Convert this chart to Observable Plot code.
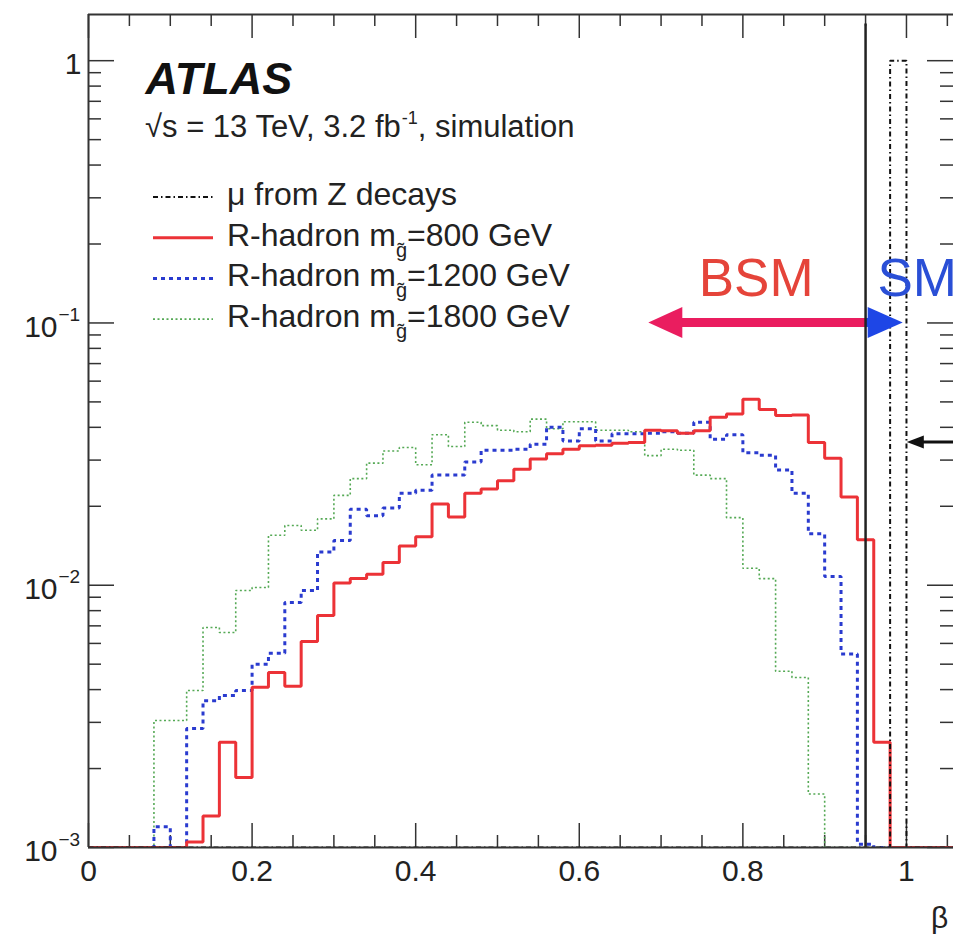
<!DOCTYPE html>
<html>
<head>
<meta charset="utf-8">
<script src="https://cdn.jsdelivr.net/npm/d3@7"></script>
<script src="https://cdn.jsdelivr.net/npm/@observablehq/plot@0.6"></script>
<style>
  html, body { margin: 0; padding: 0; background: #ffffff; }
  #chart svg { display: block; }
</style>
</head>
<body>
<div id="chart"></div>
<script>
const FONT = "'Liberation Sans', Arial, Helvetica, sans-serif";

// ---- histogram data: bins of width 0.02 starting at beta = 0 (53 bins, 0 .. 1.06) ----
const binWidth = 0.02;
const red800 = [0,0,0,0,0,0, 1.05e-3,1.32e-3,2.52e-3,1.85e-3, 4.08e-3,4.65e-3,4.12e-3,6.1e-3,7.66e-3,
  1.02e-2,1.06e-2,1.1e-2,1.22e-2,1.41e-2, 1.53e-2,2.04e-2,1.82e-2,2.24e-2,2.33e-2,
  2.5e-2,2.77e-2,3.03e-2,3.17e-2,3.3e-2, 3.4e-2,3.42e-2,3.48e-2,3.5e-2,3.9e-2,
  3.88e-2,3.8e-2,3.88e-2,4.37e-2,4.5e-2, 5.12e-2,4.68e-2,4.44e-2,4.46e-2,3.5e-2,
  3.05e-2,2.17e-2,1.49e-2,2.52e-3,0, 0,0,0];
const blue1200 = [0,0,0,0, 1.2e-3,0, 2.84e-3,3.63e-3,3.8e-3,3.97e-3, 5.0e-3,5.5e-3,8.6e-3,9.55e-3,1.34e-2,
  1.48e-2,1.95e-2,1.84e-2,1.97e-2,2.24e-2, 2.3e-2,2.63e-2,2.63e-2,2.95e-2,3.27e-2,
  3.27e-2,3.3e-2,3.45e-2,4.0e-2,3.55e-2, 3.95e-2,3.55e-2,3.78e-2,3.78e-2,3.8e-2,
  3.85e-2,3.8e-2,4.18e-2,3.6e-2,3.75e-2, 3.2e-2,3.13e-2,2.75e-2,2.24e-2,1.57e-2,
  1.08e-2,5.47e-3,1.03e-3,0,0, 0,0,0];
const green1800 = [0,0,0,0, 3.05e-3,3.05e-3, 3.97e-3,6.9e-3,6.6e-3,9.55e-3, 9.8e-3,1.55e-2,1.69e-2,1.62e-2,1.79e-2,
  2.2e-2,2.55e-2,2.92e-2,3.25e-2,3.35e-2, 2.88e-2,3.75e-2,3.38e-2,4.18e-2,4.06e-2,
  3.9e-2,3.85e-2,4.3e-2,3.95e-2,4.2e-2, 4.2e-2,3.9e-2,3.9e-2,3.85e-2,3.12e-2,
  3.3e-2,3.27e-2,2.63e-2,2.55e-2,1.81e-2, 1.16e-2,1.06e-2,4.7e-3,4.45e-3,1.6e-3,
  0,0,0,0,0, 0,0,0];
const muZ = [0,0,0,0,0,0,0,0,0,0, 0,0,0,0,0,0,0,0,0,0, 0,0,0,0,0,0,0,0,0,0,
  0,0,0,0,0,0,0,0,0,0, 0,0,0,0,0,0,0,0,0,1.0, 0,0,0];

// ---- axes ----
const xDomain = [0, 1.0575];
const yDomain = [1e-3, 1.5];
const xMajorTicks = [0, 0.2, 0.4, 0.6, 0.8, 1.0];
const xTickLabels = ["0", "0.2", "0.4", "0.6", "0.8", "1"];
const xMinorTicks = [0.05,0.1,0.15,0.25,0.3,0.35,0.45,0.5,0.55,0.65,0.7,0.75,0.85,0.9,0.95,1.05];
const yMajorTicks = [1e-3, 1e-2, 1e-1, 1];
const yTickBase = ["10", "10", "10", "1"];
const yTickExp = ["\u22123", "\u22122", "\u22121", ""];
const yMinorTicks = [2e-3,3e-3,4e-3,5e-3,6e-3,7e-3,8e-3,9e-3,
  2e-2,3e-2,4e-2,5e-2,6e-2,7e-2,8e-2,9e-2,
  2e-1,3e-1,4e-1,5e-1,6e-1,7e-1,8e-1,9e-1];
const xLabel = "\u03b2";

// ---- annotations ----
const betaCut = 0.95;
const cutTop = 1.38;
const regionLabels = [
  {label: "BSM", x: 0.746, y: 0.1, color: "#e5443a"},
  {label: "SM", x: 0.9645, y: 0.1, color: "#2a4fd6"}
];
const regionArrows = [
  {from: 0.95, to: 0.685, y: 0.1, color: "#ea1d5f", shaft: 9, headLength: 34, headWidth: 31},
  {from: 0.95, to: 0.996, y: 0.1, color: "#1e46e6", shaft: 9, headLength: 35, headWidth: 31},
  {from: 1.07, to: 1.001, y: 0.035, color: "#111111", shaft: 3, headLength: 17, headWidth: 13}
];
const RED = "#ec3237", BLUE = "#2a3bcf", GREEN = "#55a955", BLACK = "#111111";
const legendEntries = [
  {pre: "\u03bc from Z decays", sub: "", post: "", stroke: BLACK, width: 2, dash: "5,3,1.5,3"},
  {pre: "R-hadron m", sub: "g\u0303", post: "=800 GeV", stroke: RED, width: 3, dash: null},
  {pre: "R-hadron m", sub: "g\u0303", post: "=1200 GeV", stroke: BLUE, width: 3, dash: "4,4"},
  {pre: "R-hadron m", sub: "g\u0303", post: "=1800 GeV", stroke: GREEN, width: 1.6, dash: "2,2.5"}
];
const experiment = "ATLAS";
const subtitlePre = "\u221as = 13 TeV, 3.2 fb";
const subtitleSup = "-1";
const subtitlePost = ", simulation";

// ---- layout ----
const W = 953, H = 934, mL = 88, mR = 0, mT = 14, mB = 87;
const innerW = W - mL - mR, innerH = H - mT - mB;

function stepPoints(values) {
  const pts = values.map((v, i) => ({x: i * binWidth, y: Math.max(v, yDomain[0])}));
  pts.push({x: values.length * binWidth, y: pts[pts.length - 1].y});
  return pts;
}

function arrowsMark(index, scales, values, dims) {
  const g = d3.create("svg:g");
  for (const a of regionArrows) {
    const x1 = scales.x(a.from), x2 = scales.x(a.to), y = scales.y(a.y);
    const dir = Math.sign(x2 - x1);
    const xb = x2 - dir * a.headLength;
    g.append("line")
      .attr("x1", x1).attr("x2", xb + dir * 2).attr("y1", y).attr("y2", y)
      .attr("stroke", a.color).attr("stroke-width", a.shaft);
    g.append("path")
      .attr("d", `M${x2},${y}L${xb},${y - a.headWidth / 2}L${xb},${y + a.headWidth / 2}Z`)
      .attr("fill", a.color);
  }
  return g.node();
}

function legendMark(index, scales, values, dims) {
  const g = d3.create("svg:g").attr("font-family", FONT).attr("fill", "#222")
    .attr("text-anchor", "start");
  // subtitle
  const st = g.append("text").attr("x", dims.marginLeft + 57).attr("y", dims.marginTop + 123)
    .attr("font-size", 31).attr("text-anchor", "start");
  st.append("tspan").text(subtitlePre);
  st.append("tspan").attr("font-size", 18).attr("dy", -13).attr("dx", 1).text(subtitleSup);
  st.append("tspan").attr("dy", 13).text(subtitlePost);
  // legend
  legendEntries.forEach((e, i) => {
    const cy = dims.marginTop + 183 + i * 40.7;
    const ln = g.append("line")
      .attr("x1", dims.marginLeft + 65).attr("x2", dims.marginLeft + 125)
      .attr("y1", cy).attr("y2", cy)
      .attr("stroke", e.stroke).attr("stroke-width", e.width);
    if (e.dash) ln.attr("stroke-dasharray", e.dash);
    const t = g.append("text").attr("x", dims.marginLeft + 139).attr("y", cy + 8)
      .attr("font-size", 32).attr("text-anchor", "start");
    t.append("tspan").text(e.pre);
    if (e.sub) {
      t.append("tspan").attr("font-size", 20).attr("dy", 11).attr("dx", 0).text(e.sub);
      t.append("tspan").attr("dy", -11).attr("dx", 0).text(e.post);
    }
  });
  return g.node();
}

const yLabelData = yMajorTicks.map((v, i) => ({v, base: yTickBase[i], exp: yTickExp[i]}));
const tickStroke = "#333";

const chart = Plot.plot({
  width: W, height: H,
  marginLeft: mL, marginRight: mR, marginTop: mT, marginBottom: mB,
  style: {fontFamily: FONT, background: "#ffffff", color: "#222"},
  x: {domain: xDomain, axis: null},
  y: {type: "log", domain: yDomain, axis: null},
  marks: [
    // ticks (inward, ROOT style)
    Plot.ruleX(xMajorTicks, {x: d => d, insetTop: innerH - 24, stroke: tickStroke, strokeWidth: 1.5}),
    Plot.ruleX(xMajorTicks, {x: d => d, insetBottom: innerH - 24, stroke: tickStroke, strokeWidth: 1.5}),
    Plot.ruleX(xMinorTicks, {x: d => d, insetTop: innerH - 12, stroke: tickStroke, strokeWidth: 1.5}),
    Plot.ruleX(xMinorTicks, {x: d => d, insetBottom: innerH - 12, stroke: tickStroke, strokeWidth: 1.5}),
    Plot.ruleY(yMajorTicks, {y: d => d, insetRight: innerW - 26, stroke: tickStroke, strokeWidth: 1.5}),
    Plot.ruleY(yMajorTicks, {y: d => d, insetLeft: innerW - 26, stroke: tickStroke, strokeWidth: 1.5}),
    Plot.ruleY(yMinorTicks, {y: d => d, insetRight: innerW - 13, stroke: tickStroke, strokeWidth: 1.5}),
    Plot.ruleY(yMinorTicks, {y: d => d, insetLeft: innerW - 13, stroke: tickStroke, strokeWidth: 1.5}),
    // histograms
    Plot.line(stepPoints(green1800), {x: "x", y: "y", curve: "step-after", stroke: GREEN, strokeWidth: 1.6,
      strokeDasharray: "2,2.5", strokeLinecap: "butt", strokeLinejoin: "miter", clip: true}),
    Plot.line(stepPoints(blue1200), {x: "x", y: "y", curve: "step-after", stroke: BLUE, strokeWidth: 3,
      strokeDasharray: "4,4", strokeLinecap: "butt", strokeLinejoin: "miter", clip: true}),
    Plot.line(stepPoints(red800), {x: "x", y: "y", curve: "step-after", stroke: RED, strokeWidth: 3,
      strokeLinecap: "butt", strokeLinejoin: "miter", clip: true}),
    Plot.line(stepPoints(muZ), {x: "x", y: "y", curve: "step-after", stroke: BLACK, strokeWidth: 2,
      strokeDasharray: "5,3,1.5,3", strokeLinecap: "butt", strokeLinejoin: "miter", clip: true}),
    // arrows and region labels
    arrowsMark,
    Plot.text(regionLabels, {x: "x", y: "y", text: "label", fill: "color", fontSize: 53,
      textAnchor: "start", lineAnchor: "bottom", dy: -27}),
    // cut line
    Plot.ruleX([betaCut], {x: d => d, y1: yDomain[0], y2: cutTop, stroke: "#222", strokeWidth: 2.5}),
    // frame
    Plot.ruleX([xDomain[0]], {x: d => d, stroke: "#333", strokeWidth: 2}),
    Plot.ruleY([yDomain[0]], {y: d => d, stroke: "#333", strokeWidth: 2}),
    Plot.ruleY([yDomain[1]], {y: d => d, stroke: "#333", strokeWidth: 2}),
    // tick labels
    Plot.text(xMajorTicks, {x: d => d, text: (d, i) => xTickLabels[i], frameAnchor: "bottom",
      lineAnchor: "top", dy: 12, fontSize: 30, fill: "#222"}),
    Plot.text(yLabelData.filter(d => d.exp !== ""), {y: "v", text: "base", frameAnchor: "left",
      textAnchor: "end", lineAnchor: "middle", dx: -31, dy: 4, fontSize: 30, fill: "#222"}),
    Plot.text(yLabelData.filter(d => d.exp !== ""), {y: "v", text: "exp", frameAnchor: "left",
      textAnchor: "start", lineAnchor: "middle", dx: -30, dy: -8, fontSize: 19, fill: "#222"}),
    Plot.text(yLabelData.filter(d => d.exp === ""), {y: "v", text: "base", frameAnchor: "left",
      textAnchor: "end", lineAnchor: "middle", dx: -7, dy: 4, fontSize: 30, fill: "#222"}),
    Plot.text([xLabel], {text: d => d, frameAnchor: "bottom-right", dx: -14, dy: 71,
      lineAnchor: "middle", textAnchor: "middle", fontSize: 30, fill: "#222"}),
    // header and legend
    Plot.text([experiment], {text: d => d, frameAnchor: "top-left", dx: 57, dy: 79, lineAnchor: "bottom",
      textAnchor: "start", fontSize: 45, fontWeight: "bold", fontStyle: "italic", fill: "#111"}),
    legendMark
  ]
});
document.getElementById("chart").appendChild(chart);
</script>
</body>
</html>
